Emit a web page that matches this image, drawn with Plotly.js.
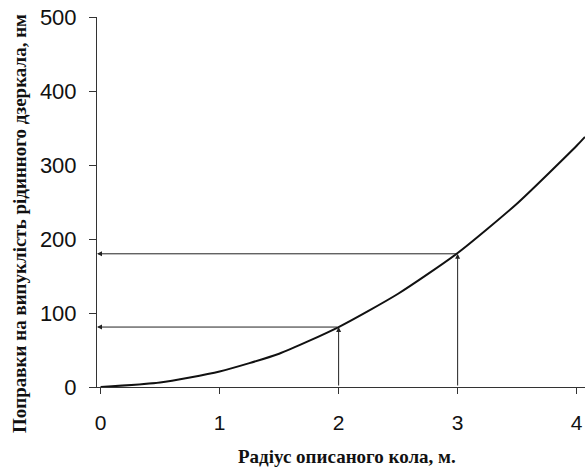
<!DOCTYPE html>
<html>
<head>
<meta charset="utf-8">
<script src="https://cdn.plot.ly/plotly-3.0.1.min.js"></script>
<style>
html,body{margin:0;padding:0;background:#fff;}
#chart{width:585px;height:468px;}
</style>
</head>
<body>
<div id="chart"></div>
<script>
// Curve: radius of circumscribed circle (m) vs correction (nm)
const radius = [0, 0.5, 1.0, 1.5, 2.0, 2.5, 3.0, 3.5, 4.0, 4.07];
const correction = [0, 6, 21, 45, 81, 126, 181, 248, 326, 338];

// Reading guides (arrows)
const guideX = [2, 3];
const guideY = [81, 180];

const xTicks = [0, 1, 2, 3, 4];
const yTicks = [0, 100, 200, 300, 400, 500];

const xTitle = "Радіус описаного кола, м.";
const yTitle = "Поправки на випуклість рідинного дзеркала, нм";

const traces = [{
  x: radius, y: correction, type: 'scatter', mode: 'lines',
  line: {color: '#111', width: 2, shape: 'spline', smoothing: 0.6},
  hoverinfo: 'skip', showlegend: false
}];

const annotations = [];
guideX.forEach((gx, i) => {
  const gy = guideY[i];
  // vertical arrow from x-axis up to the curve
  annotations.push({
    x: gx, y: gy, ax: gx, ay: 0, xref: 'x', yref: 'y', axref: 'x', ayref: 'y',
    text: '', showarrow: true, arrowhead: 2, arrowsize: 1, arrowwidth: 1,
    arrowcolor: '#222', standoff: 0, startstandoff: 0
  });
  // horizontal arrow from the curve left to the y-axis
  annotations.push({
    x: -0.03, y: gy, ax: gx, ay: gy, xref: 'x', yref: 'y', axref: 'x', ayref: 'y',
    text: '', showarrow: true, arrowhead: 2, arrowsize: 1, arrowwidth: 1,
    arrowcolor: '#222', standoff: 0, startstandoff: 0
  });
});

annotations.push({
  text: xTitle, xref: 'paper', yref: 'paper', x: 0.512, y: -0.189,
  xanchor: 'center', yanchor: 'middle', showarrow: false,
  font: {family: 'Liberation Serif, Times New Roman, serif', size: 19, color: '#111', weight: 'bold'}
});
annotations.push({
  text: yTitle, xref: 'paper', yref: 'paper', x: -0.16, y: 0.443,
  xanchor: 'center', yanchor: 'middle', showarrow: false, textangle: -90,
  font: {family: 'Liberation Serif, Times New Roman, serif', size: 19, color: '#111', weight: 'bold'}
});

const layout = {
  width: 585, height: 468,
  margin: {l: 97, r: 0, t: 17, b: 81},
  paper_bgcolor: '#fff', plot_bgcolor: '#fff',
  showlegend: false,
  font: {family: 'Liberation Sans, Arial, sans-serif', color: '#111'},
  xaxis: {
    range: [-0.03, 4.07], tickvals: xTicks, ticktext: xTicks.map(String),
    showline: true, linecolor: '#333', linewidth: 1, showgrid: false, zeroline: false,
    ticks: 'outside', ticklen: 6, tickcolor: '#333', ticklabelstandoff: 11,
    tickfont: {size: 21, color: '#111', family: 'Liberation Sans, Arial, sans-serif'}
  },
  yaxis: {
    range: [0, 500], tickvals: yTicks, ticktext: yTicks.map(String),
    showline: true, linecolor: '#333', linewidth: 1, showgrid: false, zeroline: false,
    ticks: 'outside', ticklen: 7, tickcolor: '#333', ticklabelstandoff: 8,
    tickfont: {size: 22, color: '#111', family: 'Liberation Sans, Arial, sans-serif'}
  },
  annotations: annotations
};

Plotly.newPlot('chart', traces, layout, {displayModeBar: false, staticPlot: true});
</script>
</body>
</html>
